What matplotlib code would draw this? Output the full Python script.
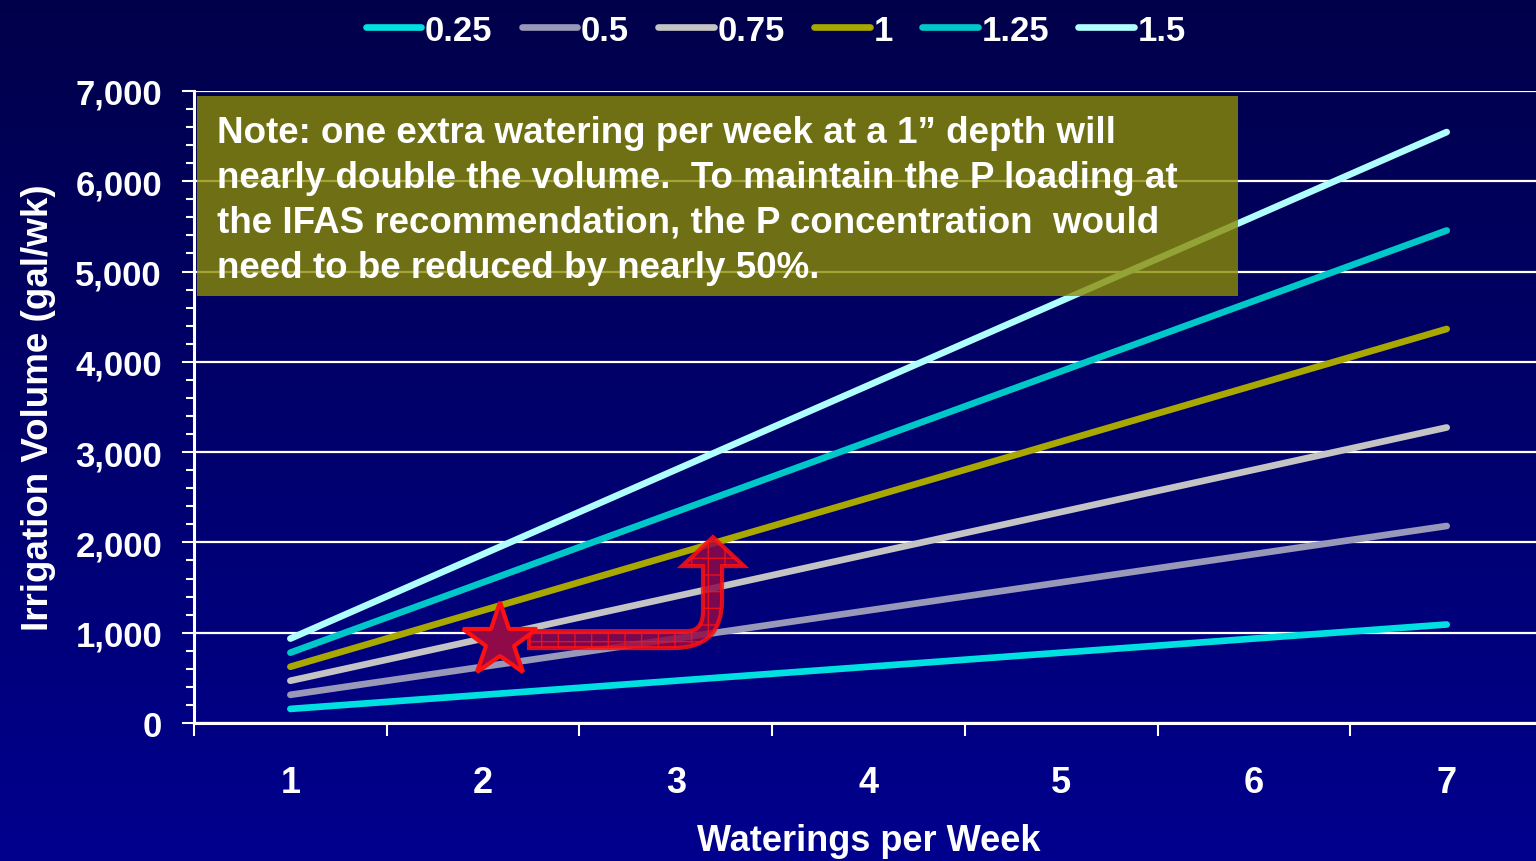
import numpy as np
import matplotlib
matplotlib.use('Agg')
import matplotlib.pyplot as plt
from matplotlib.path import Path
from matplotlib.patches import PathPatch, Rectangle
from matplotlib.ticker import MultipleLocator, FuncFormatter

plt.rcParams['font.family'] = ['Liberation Sans', 'DejaVu Sans']
plt.rcParams['font.weight'] = 'bold'
plt.rcParams['axes.labelweight'] = 'bold'

# irrigation volume (gal/wk) by waterings per week, one series per depth (in)
waterings = [1, 2, 3, 4, 5, 6, 7]
depths = ['0.25', '0.5', '0.75', '1', '1.25', '1.5']
vol_025 = [156, 312, 468, 623, 779, 935, 1091]
vol_050 = [312, 623, 935, 1247, 1558, 1870, 2182]
vol_075 = [468, 935, 1403, 1870, 2338, 2805, 3273]
vol_100 = [623, 1247, 1870, 2493, 3117, 3740, 4364]
vol_125 = [779, 1558, 2338, 3117, 3896, 4675, 5455]
vol_150 = [935, 1870, 2805, 3740, 4675, 5610, 6545]
volumes = [vol_025, vol_050, vol_075, vol_100, vol_125, vol_150]
colors = ['#00e0e0', '#9898b8', '#c4c4c4', '#a8a800', '#00c8c8', '#b0ffff']

note = ("Note: one extra watering per week at a 1\u201d depth will\n"
        "nearly double the volume.  To maintain the P loading at\n"
        "the IFAS recommendation, the P concentration  would\n"
        "need to be reduced by nearly 50%.")

fig = plt.figure(figsize=(15.36, 8.62), dpi=100)

# navy gradient backdrop
bg = fig.add_axes([0, 0, 1, 1], zorder=-10)
grad = np.linspace(0, 1, 256).reshape(-1, 1)
cmap = matplotlib.colors.LinearSegmentedColormap.from_list('navy', ['#00004a', '#00008e'])
bg.imshow(grad, aspect='auto', cmap=cmap, extent=[0, 1, 0, 1], origin='upper')
bg.axis('off')

ax = fig.add_axes([0.1263, 0.1601, 0.8783, 0.7332])
ax.set_facecolor('none')

for vals, lab, c in zip(volumes, depths, colors):
    ax.plot(waterings, vals, color=c, lw=4.8, solid_capstyle='round', label=lab, zorder=3)

ax.set_xlim(0.5, 7.5)
ax.set_ylim(0, 7000)

ax.yaxis.set_major_locator(MultipleLocator(1000))
ax.yaxis.set_minor_locator(MultipleLocator(200))
ax.yaxis.set_major_formatter(FuncFormatter(lambda v, p: f'{int(v):,}'))
ax.set_xticks(waterings)
ax.set_xticks(np.arange(0.5, 8.0, 1.0), minor=True)

ax.tick_params(axis='x', which='major', length=0, pad=30, labelsize=26, colors='white')
ax.tick_params(axis='x', which='minor', length=9, width=1.5, direction='out', color='white')
ax.tick_params(axis='y', which='major', length=9, width=1.5, pad=14, labelsize=25, colors='white')
ax.tick_params(axis='y', which='minor', length=6, width=1.5, color='white')

ax.grid(axis='y', color='white', lw=1.6, zorder=1)
ax.set_axisbelow(True)
for s in ['top', 'right']:
    ax.spines[s].set_visible(False)
for s in ['left', 'bottom']:
    ax.spines[s].set_color('white')
    ax.spines[s].set_linewidth(2.2)

ax.set_xlabel('Waterings per Week', fontsize=26, color='white', labelpad=17)
ax.set_ylabel('Irrigation Volume (gal/wk)', fontsize=26.5, color='white', labelpad=14)

# note box
ax.add_patch(Rectangle((0.515, 4730), 5.4, 2215, facecolor='#8c8c04', alpha=0.8,
                       edgecolor='none', zorder=4))
ax.text(0.62, 6730, note, fontsize=26.5, color='white', va='top', ha='left',
        linespacing=1.36, zorder=5)

# bent arrow from the star up to the next watering
verts = [(2.238, 830), (2.991, 830), (3.240, 830), (3.240, 1362), (3.240, 1738),
         (3.354, 1738), (3.193, 2059), (3.032, 1738), (3.141, 1738), (3.141, 1240),
         (3.141, 1018), (3.060, 1018), (2.238, 1018), (2.238, 830)]
codes = [Path.MOVETO, Path.LINETO, Path.CURVE3, Path.CURVE3, Path.LINETO,
         Path.LINETO, Path.LINETO, Path.LINETO, Path.LINETO, Path.LINETO,
         Path.CURVE3, Path.CURVE3, Path.LINETO, Path.CLOSEPOLY]
ax.add_patch(PathPatch(Path(verts, codes), facecolor='#900a4a', edgecolor='#ff1010',
                       lw=3, hatch='+', alpha=0.85, zorder=6))
ax.plot([2.088], [905], marker='*', markersize=56, markerfacecolor='#900a4a',
        markeredgecolor='#ff1010', markeredgewidth=3, zorder=7)

fig.legend(loc='center', bbox_to_anchor=(0.505, 0.964), ncol=6, frameon=False,
           fontsize=25, labelcolor='white', handlelength=1.6, handletextpad=0.1,
           columnspacing=0.85)
for line in fig.legends[0].get_lines():
    line.set_linewidth(4.8)

fig.savefig('out.png', dpi=100)
